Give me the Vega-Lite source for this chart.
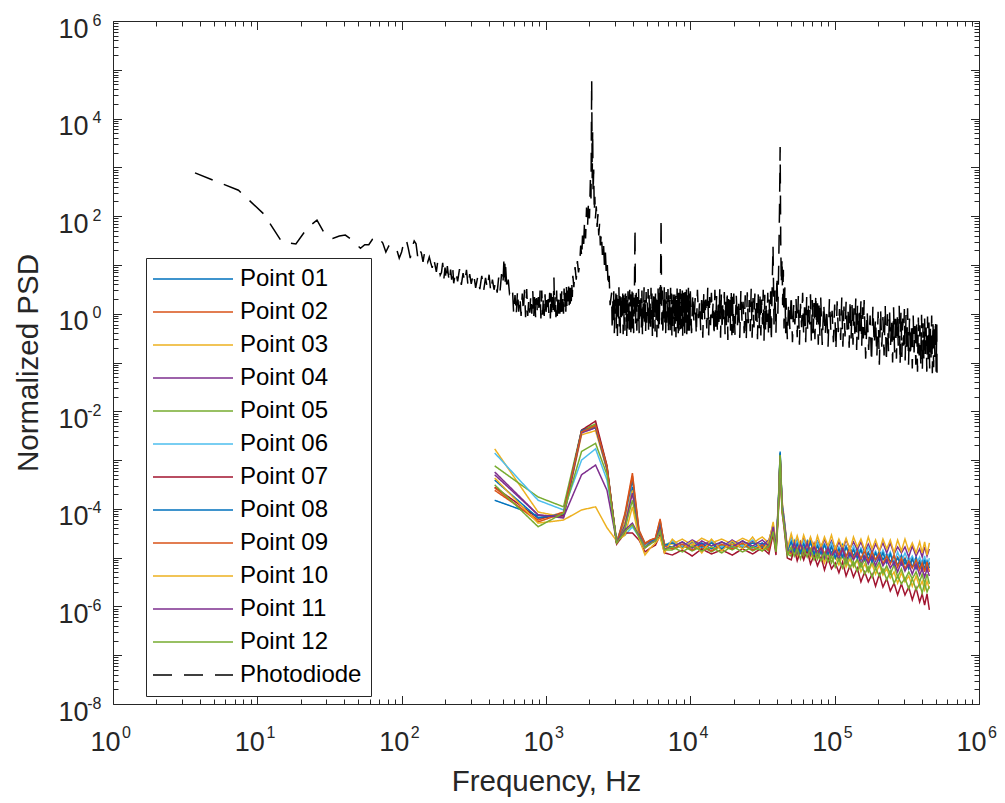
{
"$schema": "https://vega.github.io/schema/vega-lite/v6.json",
"width": 866, "height": 683,
"autosize": {"type": "none"},
"padding": {"left": 113, "top": 21, "right": 26, "bottom": 99},
"background": "white",
"config": {"view": {"stroke": null}, "axis": {"grid": false, "labelFont": "Liberation Sans", "titleFont": "Liberation Sans", "labelColor": "#262626", "titleColor": "#262626", "domainColor": "#262626", "tickColor": "#262626", "titleFontWeight": "normal", "domainWidth": 1, "tickWidth": 1}},
"resolve": {"axis": {"x": "independent", "y": "independent"}},
"layer": [
{
"data": {"values": [
{"s":1,"f":441,"p":1.5e-4},{"s":1,"f":882,"p":7.2e-5},{"s":1,"f":1323,"p":7.2e-5},{"s":1,"f":1764,"p":3.8e-3},{"s":1,"f":2205,"p":4.6e-3},{"s":1,"f":2646,"p":6.3e-4},{"s":1,"f":3087,"p":2.0e-5},{"s":1,"f":3528,"p":3.7e-5},{"s":1,"f":3969,"p":2.8e-4},{"s":1,"f":4410,"p":2.9e-5},{"s":1,"f":4851,"p":1.8e-5},{"s":1,"f":5292,"p":2.1e-5},{"s":1,"f":5733,"p":2.3e-5},{"s":1,"f":6174,"p":4.7e-5},{"s":1,"f":6615,"p":1.8e-5},
{"s":1,"f":7500,"p":1.66e-5},{"s":1,"f":8800,"p":2.1e-5},{"s":1,"f":10300,"p":1.58e-5},{"s":1,"f":12000,"p":2.0e-5},{"s":1,"f":14000,"p":1.51e-5},{"s":1,"f":16500,"p":2.1e-5},{"s":1,"f":19500,"p":1.66e-5},{"s":1,"f":23000,"p":2.2e-5},{"s":1,"f":27000,"p":1.58e-5},{"s":1,"f":31500,"p":2.0e-5},{"s":1,"f":35000,"p":1.58e-5},
{"s":1,"f":37500,"p":4.3e-5},{"s":1,"f":39200,"p":1.58e-5},{"s":1,"f":40600,"p":9.5e-5},{"s":1,"f":41900,"p":1.5e-3},{"s":1,"f":43200,"p":1.2e-4},{"s":1,"f":44600,"p":5.9e-5},{"s":1,"f":47000,"p":1.37e-5},
{"s":1,"f":50000,"p":1.44e-5},{"s":1,"f":55000,"p":1.37e-5},{"s":1,"f":61000,"p":1.44e-5},{"s":1,"f":68000,"p":1.31e-5},{"s":1,"f":76000,"p":1.31e-5},{"s":1,"f":85000,"p":1.13e-5},{"s":1,"f":95000,"p":1.25e-5},{"s":1,"f":107000,"p":1.13e-5},{"s":1,"f":120000,"p":1.03e-5},{"s":1,"f":135000,"p":1.08e-5},{"s":1,"f":152000,"p":9.0e-6},{"s":1,"f":171000,"p":9.4e-6},{"s":1,"f":192000,"p":8.6e-6},{"s":1,"f":216000,"p":9.0e-6},{"s":1,"f":243000,"p":8.2e-6},{"s":1,"f":273000,"p":6.8e-6},{"s":1,"f":307000,"p":7.4e-6},{"s":1,"f":345000,"p":6.4e-6},{"s":1,"f":388000,"p":6.1e-6},{"s":1,"f":420000,"p":5.9e-6},{"s":1,"f":453000,"p":6.1e-6},
{"s":1,"f":52500,"p":2.2e-5},{"s":1,"f":58000,"p":2.1e-5},{"s":1,"f":64500,"p":2.2e-5},{"s":1,"f":72000,"p":1.82e-5},{"s":1,"f":80500,"p":1.82e-5},{"s":1,"f":90000,"p":1.82e-5},{"s":1,"f":101000,"p":1.58e-5},{"s":1,"f":113500,"p":1.82e-5},{"s":1,"f":127500,"p":1.58e-5},{"s":1,"f":143500,"p":1.58e-5},{"s":1,"f":161500,"p":1.37e-5},{"s":1,"f":181500,"p":1.37e-5},{"s":1,"f":204000,"p":1.37e-5},{"s":1,"f":229500,"p":1.19e-5},{"s":1,"f":258000,"p":1.08e-5},{"s":1,"f":290000,"p":1.13e-5},{"s":1,"f":326000,"p":9.8e-6},{"s":1,"f":366500,"p":1.03e-5},{"s":1,"f":404000,"p":8.6e-6},{"s":1,"f":436500,"p":8.6e-6},
{"s":2,"f":441,"p":2.4e-4},{"s":2,"f":882,"p":5.9e-5},{"s":2,"f":1323,"p":8.6e-5},{"s":2,"f":1764,"p":4.0e-3},{"s":2,"f":2205,"p":5.2e-3},{"s":2,"f":2646,"p":6.9e-4},{"s":2,"f":3087,"p":2.0e-5},{"s":2,"f":3528,"p":8.2e-5},{"s":2,"f":3969,"p":5.4e-4},{"s":2,"f":4410,"p":3.7e-5},{"s":2,"f":4851,"p":2.0e-5},{"s":2,"f":5292,"p":2.3e-5},{"s":2,"f":5733,"p":2.5e-5},{"s":2,"f":6174,"p":5.9e-5},{"s":2,"f":6615,"p":1.73e-5},
{"s":2,"f":7500,"p":2.0e-5},{"s":2,"f":8800,"p":1.58e-5},{"s":2,"f":10300,"p":1.9e-5},{"s":2,"f":12000,"p":1.44e-5},{"s":2,"f":14000,"p":2.0e-5},{"s":2,"f":16500,"p":1.51e-5},{"s":2,"f":19500,"p":1.9e-5},{"s":2,"f":23000,"p":1.58e-5},{"s":2,"f":27000,"p":2.1e-5},{"s":2,"f":31500,"p":1.51e-5},{"s":2,"f":35000,"p":1.9e-5},
{"s":2,"f":37500,"p":3.7e-5},{"s":2,"f":39200,"p":1.51e-5},{"s":2,"f":40600,"p":8.6e-5},{"s":2,"f":41900,"p":1.21e-3},{"s":2,"f":43200,"p":1.04e-4},{"s":2,"f":44600,"p":5.4e-5},{"s":2,"f":47000,"p":1.31e-5},
{"s":2,"f":50000,"p":2.2e-5},{"s":2,"f":55000,"p":2.0e-5},{"s":2,"f":61000,"p":2.0e-5},{"s":2,"f":68000,"p":2.2e-5},{"s":2,"f":76000,"p":1.82e-5},{"s":2,"f":85000,"p":1.9e-5},{"s":2,"f":95000,"p":1.73e-5},{"s":2,"f":107000,"p":1.58e-5},{"s":2,"f":120000,"p":1.73e-5},{"s":2,"f":135000,"p":1.51e-5},{"s":2,"f":152000,"p":1.51e-5},{"s":2,"f":171000,"p":1.31e-5},{"s":2,"f":192000,"p":1.31e-5},{"s":2,"f":216000,"p":1.31e-5},{"s":2,"f":243000,"p":1.25e-5},{"s":2,"f":273000,"p":1.03e-5},{"s":2,"f":307000,"p":9.8e-6},{"s":2,"f":345000,"p":9.8e-6},{"s":2,"f":388000,"p":8.6e-6},{"s":2,"f":420000,"p":9.4e-6},{"s":2,"f":453000,"p":8.2e-6},
{"s":2,"f":52500,"p":1.44e-5},{"s":2,"f":58000,"p":1.31e-5},{"s":2,"f":64500,"p":1.44e-5},{"s":2,"f":72000,"p":1.25e-5},{"s":2,"f":80500,"p":1.25e-5},{"s":2,"f":90000,"p":1.25e-5},{"s":2,"f":101000,"p":1.03e-5},{"s":2,"f":113500,"p":1.08e-5},{"s":2,"f":127500,"p":1.13e-5},{"s":2,"f":143500,"p":1.03e-5},{"s":2,"f":161500,"p":9.4e-6},{"s":2,"f":181500,"p":8.6e-6},{"s":2,"f":204000,"p":9.0e-6},{"s":2,"f":229500,"p":8.2e-6},{"s":2,"f":258000,"p":7.4e-6},{"s":2,"f":290000,"p":7.4e-6},{"s":2,"f":326000,"p":6.1e-6},{"s":2,"f":366500,"p":6.1e-6},{"s":2,"f":404000,"p":5.6e-6},{"s":2,"f":436500,"p":5.9e-6},
{"s":3,"f":441,"p":1.7e-3},{"s":3,"f":882,"p":8.6e-5},{"s":3,"f":1323,"p":6.8e-5},{"s":3,"f":1764,"p":3.3e-3},{"s":3,"f":2205,"p":4.0e-3},{"s":3,"f":2646,"p":6.3e-4},{"s":3,"f":3087,"p":2.3e-5},{"s":3,"f":3528,"p":5.4e-5},{"s":3,"f":3969,"p":2.4e-4},{"s":3,"f":4410,"p":3.1e-5},{"s":3,"f":4851,"p":1.8e-5},{"s":3,"f":5292,"p":2.2e-5},{"s":3,"f":5733,"p":2.4e-5},{"s":3,"f":6174,"p":4.7e-5},{"s":3,"f":6615,"p":1.9e-5},
{"s":3,"f":7500,"p":1.9e-5},{"s":3,"f":8800,"p":2.4e-5},{"s":3,"f":10300,"p":1.8e-5},{"s":3,"f":12000,"p":2.5e-5},{"s":3,"f":14000,"p":2.0e-5},{"s":3,"f":16500,"p":2.4e-5},{"s":3,"f":19500,"p":1.9e-5},{"s":3,"f":23000,"p":2.5e-5},{"s":3,"f":27000,"p":2.0e-5},{"s":3,"f":31500,"p":2.65e-5},{"s":3,"f":35000,"p":2.0e-5},
{"s":3,"f":37500,"p":5.4e-5},{"s":3,"f":39200,"p":1.9e-5},{"s":3,"f":40600,"p":1.15e-4},{"s":3,"f":41900,"p":1.27e-3},{"s":3,"f":43200,"p":1.5e-4},{"s":3,"f":44600,"p":6.8e-5},{"s":3,"f":47000,"p":1.66e-5},
{"s":3,"f":50000,"p":1.13e-5},{"s":3,"f":55000,"p":1.08e-5},{"s":3,"f":61000,"p":1.13e-5},{"s":3,"f":68000,"p":9.8e-6},{"s":3,"f":76000,"p":9.4e-6},{"s":3,"f":85000,"p":7.8e-6},{"s":3,"f":95000,"p":8.2e-6},{"s":3,"f":107000,"p":7.1e-6},{"s":3,"f":120000,"p":6.4e-6},{"s":3,"f":135000,"p":6.4e-6},{"s":3,"f":152000,"p":5.1e-6},{"s":3,"f":171000,"p":5.1e-6},{"s":3,"f":192000,"p":4.6e-6},{"s":3,"f":216000,"p":4.4e-6},{"s":3,"f":243000,"p":3.8e-6},{"s":3,"f":273000,"p":3.0e-6},{"s":3,"f":307000,"p":3.2e-6},{"s":3,"f":345000,"p":2.6e-6},{"s":3,"f":388000,"p":2.5e-6},{"s":3,"f":420000,"p":2.2e-6},{"s":3,"f":453000,"p":2.3e-6},
{"s":3,"f":52500,"p":1.73e-5},{"s":3,"f":58000,"p":1.58e-5},{"s":3,"f":64500,"p":1.66e-5},{"s":3,"f":72000,"p":1.37e-5},{"s":3,"f":80500,"p":1.31e-5},{"s":3,"f":90000,"p":1.25e-5},{"s":3,"f":101000,"p":1.03e-5},{"s":3,"f":113500,"p":1.13e-5},{"s":3,"f":127500,"p":9.4e-6},{"s":3,"f":143500,"p":9.0e-6},{"s":3,"f":161500,"p":7.4e-6},{"s":3,"f":181500,"p":7.4e-6},{"s":3,"f":204000,"p":7.1e-6},{"s":3,"f":229500,"p":5.9e-6},{"s":3,"f":258000,"p":5.1e-6},{"s":3,"f":290000,"p":4.9e-6},{"s":3,"f":326000,"p":4.2e-6},{"s":3,"f":366500,"p":4.2e-6},{"s":3,"f":404000,"p":3.3e-6},{"s":3,"f":436500,"p":3.3e-6},
{"s":4,"f":441,"p":5.7e-4},{"s":4,"f":882,"p":7.5e-5},{"s":4,"f":1323,"p":6.5e-5},{"s":4,"f":1764,"p":3.6e-3},{"s":4,"f":2205,"p":4.6e-3},{"s":4,"f":2646,"p":6.6e-4},{"s":4,"f":3087,"p":2.0e-5},{"s":4,"f":3528,"p":4.7e-5},{"s":4,"f":3969,"p":2.1e-4},{"s":4,"f":4410,"p":2.9e-5},{"s":4,"f":4851,"p":1.73e-5},{"s":4,"f":5292,"p":2.1e-5},{"s":4,"f":5733,"p":2.3e-5},{"s":4,"f":6174,"p":4.3e-5},{"s":4,"f":6615,"p":1.66e-5},
{"s":4,"f":7500,"p":2.2e-5},{"s":4,"f":8800,"p":1.73e-5},{"s":4,"f":10300,"p":2.3e-5},{"s":4,"f":12000,"p":1.8e-5},{"s":4,"f":14000,"p":2.2e-5},{"s":4,"f":16500,"p":1.66e-5},{"s":4,"f":19500,"p":2.3e-5},{"s":4,"f":23000,"p":1.73e-5},{"s":4,"f":27000,"p":2.2e-5},{"s":4,"f":31500,"p":1.8e-5},{"s":4,"f":35000,"p":2.3e-5},
{"s":4,"f":37500,"p":4.5e-5},{"s":4,"f":39200,"p":1.73e-5},{"s":4,"f":40600,"p":1.0e-4},{"s":4,"f":41900,"p":1.1e-3},{"s":4,"f":43200,"p":1.32e-4},{"s":4,"f":44600,"p":6.2e-5},{"s":4,"f":47000,"p":1.51e-5},
{"s":4,"f":50000,"p":2.5e-5},{"s":4,"f":55000,"p":2.3e-5},{"s":4,"f":61000,"p":2.4e-5},{"s":4,"f":68000,"p":2.5e-5},{"s":4,"f":76000,"p":2.2e-5},{"s":4,"f":85000,"p":2.4e-5},{"s":4,"f":95000,"p":2.2e-5},{"s":4,"f":107000,"p":2.1e-5},{"s":4,"f":120000,"p":2.3e-5},{"s":4,"f":135000,"p":2.1e-5},{"s":4,"f":152000,"p":2.1e-5},{"s":4,"f":171000,"p":1.9e-5},{"s":4,"f":192000,"p":1.9e-5},{"s":4,"f":216000,"p":2.0e-5},{"s":4,"f":243000,"p":2.0e-5},{"s":4,"f":273000,"p":1.66e-5},{"s":4,"f":307000,"p":1.66e-5},{"s":4,"f":345000,"p":1.73e-5},{"s":4,"f":388000,"p":1.51e-5},{"s":4,"f":420000,"p":1.66e-5},{"s":4,"f":453000,"p":1.51e-5},
{"s":4,"f":52500,"p":1.66e-5},{"s":4,"f":58000,"p":1.51e-5},{"s":4,"f":64500,"p":1.73e-5},{"s":4,"f":72000,"p":1.51e-5},{"s":4,"f":80500,"p":1.58e-5},{"s":4,"f":90000,"p":1.58e-5},{"s":4,"f":101000,"p":1.37e-5},{"s":4,"f":113500,"p":1.44e-5},{"s":4,"f":127500,"p":1.51e-5},{"s":4,"f":143500,"p":1.44e-5},{"s":4,"f":161500,"p":1.31e-5},{"s":4,"f":181500,"p":1.25e-5},{"s":4,"f":204000,"p":1.37e-5},{"s":4,"f":229500,"p":1.25e-5},{"s":4,"f":258000,"p":1.19e-5},{"s":4,"f":290000,"p":1.25e-5},{"s":4,"f":326000,"p":1.03e-5},{"s":4,"f":366500,"p":1.08e-5},{"s":4,"f":404000,"p":1.03e-5},{"s":4,"f":436500,"p":1.08e-5},
{"s":5,"f":441,"p":7.6e-4},{"s":5,"f":882,"p":1.75e-4},{"s":5,"f":1323,"p":1.1e-4},{"s":5,"f":1764,"p":4.1e-3},{"s":5,"f":2205,"p":5.5e-3},{"s":5,"f":2646,"p":7.6e-4},{"s":5,"f":3087,"p":2.0e-5},{"s":5,"f":3528,"p":4.1e-5},{"s":5,"f":3969,"p":1.5e-4},{"s":5,"f":4410,"p":2.8e-5},{"s":5,"f":4851,"p":1.66e-5},{"s":5,"f":5292,"p":2.0e-5},{"s":5,"f":5733,"p":2.2e-5},{"s":5,"f":6174,"p":3.7e-5},{"s":5,"f":6615,"p":1.44e-5},
{"s":5,"f":7500,"p":1.44e-5},{"s":5,"f":8800,"p":1.8e-5},{"s":5,"f":10300,"p":1.37e-5},{"s":5,"f":12000,"p":1.73e-5},{"s":5,"f":14000,"p":1.31e-5},{"s":5,"f":16500,"p":1.8e-5},{"s":5,"f":19500,"p":1.44e-5},{"s":5,"f":23000,"p":1.9e-5},{"s":5,"f":27000,"p":1.37e-5},{"s":5,"f":31500,"p":1.73e-5},{"s":5,"f":35000,"p":1.37e-5},
{"s":5,"f":37500,"p":3.5e-5},{"s":5,"f":39200,"p":1.37e-5},{"s":5,"f":40600,"p":7.9e-5},{"s":5,"f":41900,"p":1.33e-3},{"s":5,"f":43200,"p":1.0e-4},{"s":5,"f":44600,"p":4.9e-5},{"s":5,"f":47000,"p":1.19e-5},
{"s":5,"f":50000,"p":1.08e-5},{"s":5,"f":55000,"p":1.19e-5},{"s":5,"f":61000,"p":1.08e-5},{"s":5,"f":68000,"p":1.13e-5},{"s":5,"f":76000,"p":9.4e-6},{"s":5,"f":85000,"p":9.4e-6},{"s":5,"f":95000,"p":7.8e-6},{"s":5,"f":107000,"p":8.6e-6},{"s":5,"f":120000,"p":7.4e-6},{"s":5,"f":135000,"p":6.8e-6},{"s":5,"f":152000,"p":6.4e-6},{"s":5,"f":171000,"p":5.3e-6},{"s":5,"f":192000,"p":5.9e-6},{"s":5,"f":216000,"p":4.9e-6},{"s":5,"f":243000,"p":4.6e-6},{"s":5,"f":273000,"p":4.0e-6},{"s":5,"f":307000,"p":3.5e-6},{"s":5,"f":345000,"p":3.7e-6},{"s":5,"f":388000,"p":3.2e-6},{"s":5,"f":420000,"p":2.9e-6},{"s":5,"f":453000,"p":2.9e-6},
{"s":5,"f":52500,"p":1.66e-5},{"s":5,"f":58000,"p":1.82e-5},{"s":5,"f":64500,"p":1.58e-5},{"s":5,"f":72000,"p":1.66e-5},{"s":5,"f":80500,"p":1.44e-5},{"s":5,"f":90000,"p":1.25e-5},{"s":5,"f":101000,"p":1.25e-5},{"s":5,"f":113500,"p":1.13e-5},{"s":5,"f":127500,"p":1.13e-5},{"s":5,"f":143500,"p":9.4e-6},{"s":5,"f":161500,"p":9.4e-6},{"s":5,"f":181500,"p":8.6e-6},{"s":5,"f":204000,"p":8.2e-6},{"s":5,"f":229500,"p":6.8e-6},{"s":5,"f":258000,"p":7.1e-6},{"s":5,"f":290000,"p":5.9e-6},{"s":5,"f":326000,"p":5.1e-6},{"s":5,"f":366500,"p":5.1e-6},{"s":5,"f":404000,"p":4.6e-6},{"s":5,"f":436500,"p":4.6e-6},
{"s":6,"f":441,"p":1.4e-3},{"s":6,"f":882,"p":1.5e-4},{"s":6,"f":1323,"p":9.5e-5},{"s":6,"f":1764,"p":1.0e-3},{"s":6,"f":2205,"p":1.7e-3},{"s":6,"f":2646,"p":3.9e-4},{"s":6,"f":3087,"p":2.3e-5},{"s":6,"f":3528,"p":2.9e-5},{"s":6,"f":3969,"p":4.3e-5},{"s":6,"f":4410,"p":2.65e-5},{"s":6,"f":4851,"p":1.8e-5},{"s":6,"f":5292,"p":2.2e-5},{"s":6,"f":5733,"p":2.4e-5},{"s":6,"f":6174,"p":3.2e-5},{"s":6,"f":6615,"p":1.73e-5},
{"s":6,"f":7500,"p":2.2e-5},{"s":6,"f":8800,"p":1.73e-5},{"s":6,"f":10300,"p":2.1e-5},{"s":6,"f":12000,"p":1.58e-5},{"s":6,"f":14000,"p":2.2e-5},{"s":6,"f":16500,"p":1.66e-5},{"s":6,"f":19500,"p":2.1e-5},{"s":6,"f":23000,"p":1.73e-5},{"s":6,"f":27000,"p":2.3e-5},{"s":6,"f":31500,"p":1.66e-5},{"s":6,"f":35000,"p":2.1e-5},
{"s":6,"f":37500,"p":4.7e-5},{"s":6,"f":39200,"p":1.66e-5},{"s":6,"f":40600,"p":1.04e-4},{"s":6,"f":41900,"p":1.16e-3},{"s":6,"f":43200,"p":1.26e-4},{"s":6,"f":44600,"p":6.5e-5},{"s":6,"f":47000,"p":1.44e-5},
{"s":6,"f":50000,"p":2.4e-5},{"s":6,"f":55000,"p":2.2e-5},{"s":6,"f":61000,"p":2.2e-5},{"s":6,"f":68000,"p":2.0e-5},{"s":6,"f":76000,"p":2.1e-5},{"s":6,"f":85000,"p":1.9e-5},{"s":6,"f":95000,"p":2.0e-5},{"s":6,"f":107000,"p":1.66e-5},{"s":6,"f":120000,"p":1.73e-5},{"s":6,"f":135000,"p":1.73e-5},{"s":6,"f":152000,"p":1.58e-5},{"s":6,"f":171000,"p":1.66e-5},{"s":6,"f":192000,"p":1.37e-5},{"s":6,"f":216000,"p":1.44e-5},{"s":6,"f":243000,"p":1.31e-5},{"s":6,"f":273000,"p":1.31e-5},{"s":6,"f":307000,"p":1.25e-5},{"s":6,"f":345000,"p":1.08e-5},{"s":6,"f":388000,"p":1.03e-5},{"s":6,"f":420000,"p":1.08e-5},{"s":6,"f":453000,"p":9.8e-6},
{"s":6,"f":52500,"p":1.58e-5},{"s":6,"f":58000,"p":1.44e-5},{"s":6,"f":64500,"p":1.44e-5},{"s":6,"f":72000,"p":1.25e-5},{"s":6,"f":80500,"p":1.37e-5},{"s":6,"f":90000,"p":1.37e-5},{"s":6,"f":101000,"p":1.19e-5},{"s":6,"f":113500,"p":1.19e-5},{"s":6,"f":127500,"p":1.03e-5},{"s":6,"f":143500,"p":1.13e-5},{"s":6,"f":161500,"p":1.03e-5},{"s":6,"f":181500,"p":1.03e-5},{"s":6,"f":204000,"p":9.4e-6},{"s":6,"f":229500,"p":9.4e-6},{"s":6,"f":258000,"p":7.8e-6},{"s":6,"f":290000,"p":8.2e-6},{"s":6,"f":326000,"p":8.2e-6},{"s":6,"f":366500,"p":7.1e-6},{"s":6,"f":404000,"p":7.1e-6},{"s":6,"f":436500,"p":6.1e-6},
{"s":7,"f":441,"p":2.8e-4},{"s":7,"f":882,"p":6.5e-5},{"s":7,"f":1323,"p":7.5e-5},{"s":7,"f":1764,"p":4.1e-3},{"s":7,"f":2205,"p":6.3e-3},{"s":7,"f":2646,"p":7.6e-4},{"s":7,"f":3087,"p":1.9e-5},{"s":7,"f":3528,"p":3.2e-5},{"s":7,"f":3969,"p":3.2e-5},{"s":7,"f":4410,"p":2.3e-5},{"s":7,"f":4851,"p":1.31e-5},{"s":7,"f":5292,"p":1.58e-5},{"s":7,"f":5733,"p":1.8e-5},{"s":7,"f":6174,"p":2.9e-5},{"s":7,"f":6615,"p":1.25e-5},
{"s":7,"f":7500,"p":1.13e-5},{"s":7,"f":8800,"p":1.44e-5},{"s":7,"f":10300,"p":1.08e-5},{"s":7,"f":12000,"p":1.51e-5},{"s":7,"f":14000,"p":1.19e-5},{"s":7,"f":16500,"p":1.44e-5},{"s":7,"f":19500,"p":1.13e-5},{"s":7,"f":23000,"p":1.51e-5},{"s":7,"f":27000,"p":1.19e-5},{"s":7,"f":31500,"p":1.58e-5},{"s":7,"f":35000,"p":1.19e-5},
{"s":7,"f":37500,"p":3.1e-5},{"s":7,"f":39200,"p":1.13e-5},{"s":7,"f":40600,"p":6.5e-5},{"s":7,"f":41900,"p":1.0e-3},{"s":7,"f":43200,"p":8.6e-5},{"s":7,"f":44600,"p":4.1e-5},{"s":7,"f":47000,"p":9.8e-6},
{"s":7,"f":50000,"p":9.0e-6},{"s":7,"f":55000,"p":8.6e-6},{"s":7,"f":61000,"p":9.0e-6},{"s":7,"f":68000,"p":7.4e-6},{"s":7,"f":76000,"p":6.8e-6},{"s":7,"f":85000,"p":5.6e-6},{"s":7,"f":95000,"p":5.9e-6},{"s":7,"f":107000,"p":4.9e-6},{"s":7,"f":120000,"p":4.2e-6},{"s":7,"f":135000,"p":4.0e-6},{"s":7,"f":152000,"p":3.2e-6},{"s":7,"f":171000,"p":3.2e-6},{"s":7,"f":192000,"p":2.6e-6},{"s":7,"f":216000,"p":2.5e-6},{"s":7,"f":243000,"p":2.07e-6},{"s":7,"f":273000,"p":1.72e-6},{"s":7,"f":307000,"p":1.72e-6},{"s":7,"f":345000,"p":1.36e-6},{"s":7,"f":388000,"p":1.23e-6},{"s":7,"f":420000,"p":1.07e-6},{"s":7,"f":453000,"p":8.5e-7},
{"s":7,"f":52500,"p":1.51e-5},{"s":7,"f":58000,"p":1.37e-5},{"s":7,"f":64500,"p":1.44e-5},{"s":7,"f":72000,"p":1.13e-5},{"s":7,"f":80500,"p":1.03e-5},{"s":7,"f":90000,"p":9.8e-6},{"s":7,"f":101000,"p":7.8e-6},{"s":7,"f":113500,"p":8.2e-6},{"s":7,"f":127500,"p":6.8e-6},{"s":7,"f":143500,"p":6.1e-6},{"s":7,"f":161500,"p":5.1e-6},{"s":7,"f":181500,"p":4.6e-6},{"s":7,"f":204000,"p":4.6e-6},{"s":7,"f":229500,"p":3.7e-6},{"s":7,"f":258000,"p":3.0e-6},{"s":7,"f":290000,"p":2.9e-6},{"s":7,"f":326000,"p":2.5e-6},{"s":7,"f":366500,"p":2.4e-6},{"s":7,"f":404000,"p":1.8e-6},{"s":7,"f":436500,"p":1.8e-6},
{"s":8,"f":441,"p":3.9e-4},{"s":8,"f":882,"p":6.5e-5},{"s":8,"f":1323,"p":7.9e-5},{"s":8,"f":1764,"p":4.0e-3},{"s":8,"f":2205,"p":4.8e-3},{"s":8,"f":2646,"p":6.9e-4},{"s":8,"f":3087,"p":2.0e-5},{"s":8,"f":3528,"p":7.2e-5},{"s":8,"f":3969,"p":3.9e-4},{"s":8,"f":4410,"p":3.4e-5},{"s":8,"f":4851,"p":1.9e-5},{"s":8,"f":5292,"p":2.2e-5},{"s":8,"f":5733,"p":2.4e-5},{"s":8,"f":6174,"p":5.4e-5},{"s":8,"f":6615,"p":1.8e-5},
{"s":8,"f":7500,"p":2.0e-5},{"s":8,"f":8800,"p":1.58e-5},{"s":8,"f":10300,"p":2.1e-5},{"s":8,"f":12000,"p":1.66e-5},{"s":8,"f":14000,"p":2.0e-5},{"s":8,"f":16500,"p":1.51e-5},{"s":8,"f":19500,"p":2.1e-5},{"s":8,"f":23000,"p":1.58e-5},{"s":8,"f":27000,"p":2.0e-5},{"s":8,"f":31500,"p":1.66e-5},{"s":8,"f":35000,"p":2.1e-5},
{"s":8,"f":37500,"p":4.1e-5},{"s":8,"f":39200,"p":1.58e-5},{"s":8,"f":40600,"p":9.0e-5},{"s":8,"f":41900,"p":1.4e-3},{"s":8,"f":43200,"p":1.15e-4},{"s":8,"f":44600,"p":5.6e-5},{"s":8,"f":47000,"p":1.37e-5},
{"s":8,"f":50000,"p":2.1e-5},{"s":8,"f":55000,"p":1.9e-5},{"s":8,"f":61000,"p":1.9e-5},{"s":8,"f":68000,"p":2.1e-5},{"s":8,"f":76000,"p":1.73e-5},{"s":8,"f":85000,"p":1.82e-5},{"s":8,"f":95000,"p":1.66e-5},{"s":8,"f":107000,"p":1.51e-5},{"s":8,"f":120000,"p":1.66e-5},{"s":8,"f":135000,"p":1.44e-5},{"s":8,"f":152000,"p":1.44e-5},{"s":8,"f":171000,"p":1.25e-5},{"s":8,"f":192000,"p":1.25e-5},{"s":8,"f":216000,"p":1.25e-5},{"s":8,"f":243000,"p":1.19e-5},{"s":8,"f":273000,"p":9.8e-6},{"s":8,"f":307000,"p":9.4e-6},{"s":8,"f":345000,"p":9.4e-6},{"s":8,"f":388000,"p":8.2e-6},{"s":8,"f":420000,"p":9.0e-6},{"s":8,"f":453000,"p":7.8e-6},
{"s":8,"f":52500,"p":1.37e-5},{"s":8,"f":58000,"p":1.25e-5},{"s":8,"f":64500,"p":1.37e-5},{"s":8,"f":72000,"p":1.19e-5},{"s":8,"f":80500,"p":1.19e-5},{"s":8,"f":90000,"p":1.19e-5},{"s":8,"f":101000,"p":9.8e-6},{"s":8,"f":113500,"p":1.03e-5},{"s":8,"f":127500,"p":1.08e-5},{"s":8,"f":143500,"p":9.8e-6},{"s":8,"f":161500,"p":9.0e-6},{"s":8,"f":181500,"p":8.2e-6},{"s":8,"f":204000,"p":8.6e-6},{"s":8,"f":229500,"p":7.8e-6},{"s":8,"f":258000,"p":7.1e-6},{"s":8,"f":290000,"p":7.1e-6},{"s":8,"f":326000,"p":5.9e-6},{"s":8,"f":366500,"p":5.9e-6},{"s":8,"f":404000,"p":5.3e-6},{"s":8,"f":436500,"p":5.6e-6},
{"s":9,"f":441,"p":2.7e-4},{"s":9,"f":882,"p":5.4e-5},{"s":9,"f":1323,"p":8.2e-5},{"s":9,"f":1764,"p":3.8e-3},{"s":9,"f":2205,"p":5.0e-3},{"s":9,"f":2646,"p":7.2e-4},{"s":9,"f":3087,"p":1.9e-5},{"s":9,"f":3528,"p":7.5e-5},{"s":9,"f":3969,"p":4.7e-4},{"s":9,"f":4410,"p":3.5e-5},{"s":9,"f":4851,"p":1.9e-5},{"s":9,"f":5292,"p":2.3e-5},{"s":9,"f":5733,"p":2.5e-5},{"s":9,"f":6174,"p":6.2e-5},{"s":9,"f":6615,"p":1.73e-5},
{"s":9,"f":7500,"p":1.51e-5},{"s":9,"f":8800,"p":1.9e-5},{"s":9,"f":10300,"p":1.44e-5},{"s":9,"f":12000,"p":1.8e-5},{"s":9,"f":14000,"p":1.37e-5},{"s":9,"f":16500,"p":1.9e-5},{"s":9,"f":19500,"p":1.51e-5},{"s":9,"f":23000,"p":2.0e-5},{"s":9,"f":27000,"p":1.44e-5},{"s":9,"f":31500,"p":1.8e-5},{"s":9,"f":35000,"p":1.44e-5},
{"s":9,"f":37500,"p":3.9e-5},{"s":9,"f":39200,"p":1.44e-5},{"s":9,"f":40600,"p":8.2e-5},{"s":9,"f":41900,"p":1.21e-3},{"s":9,"f":43200,"p":1.1e-4},{"s":9,"f":44600,"p":5.4e-5},{"s":9,"f":47000,"p":1.25e-5},
{"s":9,"f":50000,"p":1.25e-5},{"s":9,"f":55000,"p":1.37e-5},{"s":9,"f":61000,"p":1.25e-5},{"s":9,"f":68000,"p":1.37e-5},{"s":9,"f":76000,"p":1.19e-5},{"s":9,"f":85000,"p":1.19e-5},{"s":9,"f":95000,"p":1.03e-5},{"s":9,"f":107000,"p":1.13e-5},{"s":9,"f":120000,"p":1.03e-5},{"s":9,"f":135000,"p":9.4e-6},{"s":9,"f":152000,"p":9.4e-6},{"s":9,"f":171000,"p":8.2e-6},{"s":9,"f":192000,"p":9.0e-6},{"s":9,"f":216000,"p":7.4e-6},{"s":9,"f":243000,"p":7.4e-6},{"s":9,"f":273000,"p":6.4e-6},{"s":9,"f":307000,"p":5.9e-6},{"s":9,"f":345000,"p":6.1e-6},{"s":9,"f":388000,"p":5.6e-6},{"s":9,"f":420000,"p":5.1e-6},{"s":9,"f":453000,"p":5.1e-6},
{"s":9,"f":52500,"p":1.9e-5},{"s":9,"f":58000,"p":2.1e-5},{"s":9,"f":64500,"p":1.9e-5},{"s":9,"f":72000,"p":2.0e-5},{"s":9,"f":80500,"p":1.73e-5},{"s":9,"f":90000,"p":1.58e-5},{"s":9,"f":101000,"p":1.66e-5},{"s":9,"f":113500,"p":1.58e-5},{"s":9,"f":127500,"p":1.66e-5},{"s":9,"f":143500,"p":1.37e-5},{"s":9,"f":161500,"p":1.44e-5},{"s":9,"f":181500,"p":1.31e-5},{"s":9,"f":204000,"p":1.25e-5},{"s":9,"f":229500,"p":1.08e-5},{"s":9,"f":258000,"p":1.13e-5},{"s":9,"f":290000,"p":9.8e-6},{"s":9,"f":326000,"p":8.6e-6},{"s":9,"f":366500,"p":9.0e-6},{"s":9,"f":404000,"p":7.8e-6},{"s":9,"f":436500,"p":8.2e-6},
{"s":10,"f":441,"p":4.3e-4},{"s":10,"f":882,"p":5.1e-5},{"s":10,"f":1323,"p":5.9e-5},{"s":10,"f":1764,"p":9.5e-5},{"s":10,"f":2205,"p":1.1e-4},{"s":10,"f":2646,"p":4.1e-5},{"s":10,"f":3087,"p":2.2e-5},{"s":10,"f":3528,"p":2.9e-5},{"s":10,"f":3969,"p":1.1e-4},{"s":10,"f":4410,"p":2.5e-5},{"s":10,"f":4851,"p":1.13e-5},{"s":10,"f":5292,"p":1.58e-5},{"s":10,"f":5733,"p":2.0e-5},{"s":10,"f":6174,"p":2.65e-5},{"s":10,"f":6615,"p":1.25e-5},
{"s":10,"f":7500,"p":2.4e-5},{"s":10,"f":8800,"p":1.51e-5},{"s":10,"f":10300,"p":2.2e-5},{"s":10,"f":12000,"p":1.25e-5},{"s":10,"f":14000,"p":2.4e-5},{"s":10,"f":16500,"p":1.37e-5},{"s":10,"f":19500,"p":2.2e-5},{"s":10,"f":23000,"p":1.51e-5},{"s":10,"f":27000,"p":2.65e-5},{"s":10,"f":31500,"p":1.37e-5},{"s":10,"f":35000,"p":2.2e-5},
{"s":10,"f":37500,"p":4.9e-5},{"s":10,"f":39200,"p":1.73e-5},{"s":10,"f":40600,"p":7.5e-5},{"s":10,"f":41900,"p":9.1e-4},{"s":10,"f":43200,"p":9.5e-5},{"s":10,"f":44600,"p":5.1e-5},{"s":10,"f":47000,"p":1.51e-5},
{"s":10,"f":50000,"p":3.1e-5},{"s":10,"f":55000,"p":2.8e-5},{"s":10,"f":61000,"p":2.9e-5},{"s":10,"f":68000,"p":2.65e-5},{"s":10,"f":76000,"p":2.8e-5},{"s":10,"f":85000,"p":2.65e-5},{"s":10,"f":95000,"p":2.9e-5},{"s":10,"f":107000,"p":2.4e-5},{"s":10,"f":120000,"p":2.5e-5},{"s":10,"f":135000,"p":2.65e-5},{"s":10,"f":152000,"p":2.4e-5},{"s":10,"f":171000,"p":2.65e-5},{"s":10,"f":192000,"p":2.3e-5},{"s":10,"f":216000,"p":2.4e-5},{"s":10,"f":243000,"p":2.3e-5},{"s":10,"f":273000,"p":2.3e-5},{"s":10,"f":307000,"p":2.4e-5},{"s":10,"f":345000,"p":2.0e-5},{"s":10,"f":388000,"p":2.1e-5},{"s":10,"f":420000,"p":2.1e-5},{"s":10,"f":453000,"p":2.0e-5},
{"s":10,"f":52500,"p":1.82e-5},{"s":10,"f":58000,"p":1.66e-5},{"s":10,"f":64500,"p":1.73e-5},{"s":10,"f":72000,"p":1.51e-5},{"s":10,"f":80500,"p":1.66e-5},{"s":10,"f":90000,"p":1.73e-5},{"s":10,"f":101000,"p":1.51e-5},{"s":10,"f":113500,"p":1.58e-5},{"s":10,"f":127500,"p":1.44e-5},{"s":10,"f":143500,"p":1.66e-5},{"s":10,"f":161500,"p":1.44e-5},{"s":10,"f":181500,"p":1.51e-5},{"s":10,"f":204000,"p":1.37e-5},{"s":10,"f":229500,"p":1.51e-5},{"s":10,"f":258000,"p":1.25e-5},{"s":10,"f":290000,"p":1.37e-5},{"s":10,"f":326000,"p":1.37e-5},{"s":10,"f":366500,"p":1.25e-5},{"s":10,"f":404000,"p":1.25e-5},{"s":10,"f":436500,"p":1.13e-5},
{"s":11,"f":441,"p":5.0e-4},{"s":11,"f":882,"p":7.5e-5},{"s":11,"f":1323,"p":6.8e-5},{"s":11,"f":1764,"p":5.0e-4},{"s":11,"f":2205,"p":7.9e-4},{"s":11,"f":2646,"p":2.4e-4},{"s":11,"f":3087,"p":2.1e-5},{"s":11,"f":3528,"p":3.7e-5},{"s":11,"f":3969,"p":5.1e-5},{"s":11,"f":4410,"p":2.8e-5},{"s":11,"f":4851,"p":1.58e-5},{"s":11,"f":5292,"p":2.0e-5},{"s":11,"f":5733,"p":2.2e-5},{"s":11,"f":6174,"p":3.7e-5},{"s":11,"f":6615,"p":1.51e-5},
{"s":11,"f":7500,"p":1.66e-5},{"s":11,"f":8800,"p":2.1e-5},{"s":11,"f":10300,"p":1.58e-5},{"s":11,"f":12000,"p":2.2e-5},{"s":11,"f":14000,"p":1.73e-5},{"s":11,"f":16500,"p":2.1e-5},{"s":11,"f":19500,"p":1.66e-5},{"s":11,"f":23000,"p":2.2e-5},{"s":11,"f":27000,"p":1.73e-5},{"s":11,"f":31500,"p":2.3e-5},{"s":11,"f":35000,"p":1.73e-5},
{"s":11,"f":37500,"p":4.3e-5},{"s":11,"f":39200,"p":1.66e-5},{"s":11,"f":40600,"p":8.6e-5},{"s":11,"f":41900,"p":1.05e-3},{"s":11,"f":43200,"p":1.1e-4},{"s":11,"f":44600,"p":5.6e-5},{"s":11,"f":47000,"p":1.44e-5},
{"s":11,"f":50000,"p":1.31e-5},{"s":11,"f":55000,"p":1.25e-5},{"s":11,"f":61000,"p":1.31e-5},{"s":11,"f":68000,"p":1.13e-5},{"s":11,"f":76000,"p":1.13e-5},{"s":11,"f":85000,"p":9.8e-6},{"s":11,"f":95000,"p":1.08e-5},{"s":11,"f":107000,"p":9.4e-6},{"s":11,"f":120000,"p":8.6e-6},{"s":11,"f":135000,"p":9.0e-6},{"s":11,"f":152000,"p":7.4e-6},{"s":11,"f":171000,"p":7.4e-6},{"s":11,"f":192000,"p":6.8e-6},{"s":11,"f":216000,"p":6.8e-6},{"s":11,"f":243000,"p":6.1e-6},{"s":11,"f":273000,"p":5.1e-6},{"s":11,"f":307000,"p":5.3e-6},{"s":11,"f":345000,"p":4.6e-6},{"s":11,"f":388000,"p":4.4e-6},{"s":11,"f":420000,"p":4.0e-6},{"s":11,"f":453000,"p":4.2e-6},
{"s":11,"f":52500,"p":2.0e-5},{"s":11,"f":58000,"p":1.9e-5},{"s":11,"f":64500,"p":2.0e-5},{"s":11,"f":72000,"p":1.66e-5},{"s":11,"f":80500,"p":1.58e-5},{"s":11,"f":90000,"p":1.58e-5},{"s":11,"f":101000,"p":1.37e-5},{"s":11,"f":113500,"p":1.51e-5},{"s":11,"f":127500,"p":1.25e-5},{"s":11,"f":143500,"p":1.25e-5},{"s":11,"f":161500,"p":1.08e-5},{"s":11,"f":181500,"p":1.08e-5},{"s":11,"f":204000,"p":1.08e-5},{"s":11,"f":229500,"p":9.0e-6},{"s":11,"f":258000,"p":8.2e-6},{"s":11,"f":290000,"p":8.2e-6},{"s":11,"f":326000,"p":7.4e-6},{"s":11,"f":366500,"p":7.4e-6},{"s":11,"f":404000,"p":5.9e-6},{"s":11,"f":436500,"p":5.9e-6},
{"s":12,"f":441,"p":3.1e-4},{"s":12,"f":882,"p":4.3e-5},{"s":12,"f":1323,"p":8.2e-5},{"s":12,"f":1764,"p":1.5e-3},{"s":12,"f":2205,"p":2.2e-3},{"s":12,"f":2646,"p":5.0e-4},{"s":12,"f":3087,"p":2.0e-5},{"s":12,"f":3528,"p":3.4e-5},{"s":12,"f":3969,"p":4.7e-5},{"s":12,"f":4410,"p":2.65e-5},{"s":12,"f":4851,"p":1.58e-5},{"s":12,"f":5292,"p":1.9e-5},{"s":12,"f":5733,"p":2.2e-5},{"s":12,"f":6174,"p":3.5e-5},{"s":12,"f":6615,"p":1.44e-5},
{"s":12,"f":7500,"p":1.66e-5},{"s":12,"f":8800,"p":1.31e-5},{"s":12,"f":10300,"p":1.73e-5},{"s":12,"f":12000,"p":1.37e-5},{"s":12,"f":14000,"p":1.66e-5},{"s":12,"f":16500,"p":1.25e-5},{"s":12,"f":19500,"p":1.73e-5},{"s":12,"f":23000,"p":1.31e-5},{"s":12,"f":27000,"p":1.66e-5},{"s":12,"f":31500,"p":1.37e-5},{"s":12,"f":35000,"p":1.73e-5},
{"s":12,"f":37500,"p":3.4e-5},{"s":12,"f":39200,"p":1.31e-5},{"s":12,"f":40600,"p":7.5e-5},{"s":12,"f":41900,"p":1.27e-3},{"s":12,"f":43200,"p":9.5e-5},{"s":12,"f":44600,"p":4.7e-5},{"s":12,"f":47000,"p":1.13e-5},
{"s":12,"f":50000,"p":1.66e-5},{"s":12,"f":55000,"p":1.51e-5},{"s":12,"f":61000,"p":1.51e-5},{"s":12,"f":68000,"p":1.51e-5},{"s":12,"f":76000,"p":1.25e-5},{"s":12,"f":85000,"p":1.25e-5},{"s":12,"f":95000,"p":1.08e-5},{"s":12,"f":107000,"p":9.4e-6},{"s":12,"f":120000,"p":9.8e-6},{"s":12,"f":135000,"p":8.2e-6},{"s":12,"f":152000,"p":7.8e-6},{"s":12,"f":171000,"p":6.4e-6},{"s":12,"f":192000,"p":6.1e-6},{"s":12,"f":216000,"p":5.9e-6},{"s":12,"f":243000,"p":5.3e-6},{"s":12,"f":273000,"p":4.2e-6},{"s":12,"f":307000,"p":3.8e-6},{"s":12,"f":345000,"p":3.7e-6},{"s":12,"f":388000,"p":2.9e-6},{"s":12,"f":420000,"p":3.0e-6},{"s":12,"f":453000,"p":2.6e-6},
{"s":12,"f":52500,"p":1.08e-5},{"s":12,"f":58000,"p":9.4e-6},{"s":12,"f":64500,"p":1.03e-5},{"s":12,"f":72000,"p":9.0e-6},{"s":12,"f":80500,"p":8.6e-6},{"s":12,"f":90000,"p":8.2e-6},{"s":12,"f":101000,"p":6.4e-6},{"s":12,"f":113500,"p":6.1e-6},{"s":12,"f":127500,"p":6.1e-6},{"s":12,"f":143500,"p":5.3e-6},{"s":12,"f":161500,"p":4.6e-6},{"s":12,"f":181500,"p":4.0e-6},{"s":12,"f":204000,"p":4.2e-6},{"s":12,"f":229500,"p":3.5e-6},{"s":12,"f":258000,"p":3.0e-6},{"s":12,"f":290000,"p":2.9e-6},{"s":12,"f":326000,"p":2.3e-6},{"s":12,"f":366500,"p":2.2e-6},{"s":12,"f":404000,"p":1.89e-6},{"s":12,"f":436500,"p":1.98e-6},
{"s":13,"f":3.7,"p":770},{"s":13,"f":7.4,"p":340},{"s":13,"f":11.1,"p":110},{"s":13,"f":14.8,"p":29.5},{"s":13,"f":18.5,"p":27},{"s":13,"f":22.2,"p":57},{"s":13,"f":25.9,"p":83},{"s":13,"f":29.6,"p":41},{"s":13,"f":33.3,"p":35},{"s":13,"f":37,"p":39},{"s":13,"f":40.7,"p":41},{"s":13,"f":44.4,"p":34},{"s":13,"f":48.1,"p":27},{"s":13,"f":51.8,"p":22},{"s":13,"f":55.5,"p":26},{"s":13,"f":59.2,"p":26},{"s":13,"f":62.9,"p":34},{"s":13,"f":66.6,"p":39},
{"s":13,"f":70.3,"p":34},{"s":13,"f":74,"p":28},{"s":13,"f":77.7,"p":18.4},{"s":13,"f":81.4,"p":24.5},{"s":13,"f":85.1,"p":27},{"s":13,"f":88.8,"p":23.4},{"s":13,"f":92.5,"p":20.4},{"s":13,"f":96.2,"p":13.8},{"s":13,"f":99.9,"p":18.4},{"s":13,"f":103.6,"p":29.5},{"s":13,"f":107.3,"p":34},{"s":13,"f":111,"p":22.4},{"s":13,"f":114.7,"p":13.8},{"s":13,"f":118.4,"p":23.4},{"s":13,"f":122.1,"p":31},{"s":13,"f":125.8,"p":27},{"s":13,"f":129.5,"p":13.8},{"s":13,"f":133.2,"p":20.4},{"s":13,"f":136.9,"p":17.6},{"s":13,"f":140.6,"p":11.5},{"s":13,"f":144.3,"p":18.4},{"s":13,"f":148,"p":15.8},{"s":13,"f":151.7,"p":11.5},{"s":13,"f":155.4,"p":14.5},{"s":13,"f":159.1,"p":11},{"s":13,"f":162.8,"p":8.7},{"s":13,"f":166.5,"p":13.8},{"s":13,"f":170.2,"p":10},{"s":13,"f":173.9,"p":7.2},{"s":13,"f":177.6,"p":11.5},{"s":13,"f":181.3,"p":8.7},{"s":13,"f":185,"p":6.2},
{"s":13,"f":188.7,"p":7},{"s":13,"f":192.4,"p":11},{"s":13,"f":196.1,"p":5.2},{"s":13,"f":199.8,"p":8.8},{"s":13,"f":203.5,"p":4.8},{"s":13,"f":207.2,"p":9.5},{"s":13,"f":210.9,"p":6},{"s":13,"f":214.6,"p":4.4},{"s":13,"f":218.3,"p":8},{"s":13,"f":222,"p":5},{"s":13,"f":225.7,"p":9},{"s":13,"f":229.4,"p":4.2},{"s":13,"f":236.8,"p":7.5},{"s":13,"f":244.2,"p":4.6},{"s":13,"f":251.6,"p":8.2},{"s":13,"f":259,"p":3.9},{"s":13,"f":266.4,"p":6.8},{"s":13,"f":273.8,"p":4.4},{"s":13,"f":281.2,"p":7.9},{"s":13,"f":288.6,"p":3.6},{"s":13,"f":296,"p":6.5},{"s":13,"f":303.4,"p":4.1},{"s":13,"f":314.5,"p":6.9},{"s":13,"f":325.6,"p":3.4},{"s":13,"f":336.7,"p":5.8},{"s":13,"f":347.8,"p":3.2},{"s":13,"f":358.9,"p":6},{"s":13,"f":370,"p":3},{"s":13,"f":381.1,"p":5.4},{"s":13,"f":392.2,"p":3.3},{"s":13,"f":403.3,"p":6.3},{"s":13,"f":414.4,"p":2.8},{"s":13,"f":425.5,"p":5},{"s":13,"f":436.6,"p":3.1},{"s":13,"f":447.7,"p":4.6},{"s":13,"f":458.8,"p":2.7},{"s":13,"f":469.9,"p":5.5},{"s":13,"f":481,"p":3},{"s":13,"f":492.1,"p":6.5},{"s":13,"f":503.2,"p":4},{"s":13,"f":510.6,"p":12},{"s":13,"f":514.3,"p":5.5},{"s":13,"f":518,"p":14},{"s":13,"f":521.7,"p":4.5},{"s":13,"f":525.4,"p":9},{"s":13,"f":536.5,"p":3},{"s":13,"f":547.6,"p":5},{"s":13,"f":558.7,"p":2.6},
{"s":13,"f":585,"p":3.5},{"s":13,"f":610,"p":2.4},{"s":13,"f":635,"p":3.0},{"s":13,"f":660,"p":2.2},{"s":13,"f":685,"p":2.6},{"s":13,"f":710,"p":3.1},{"s":13,"f":735,"p":3.2},{"s":13,"f":760,"p":2.0},{"s":13,"f":785,"p":2.4},{"s":13,"f":810,"p":2.9},{"s":13,"f":835,"p":2.8},{"s":13,"f":860,"p":2.1},{"s":13,"f":885,"p":2.2},{"s":13,"f":910,"p":3.0},{"s":13,"f":935,"p":3.0},{"s":13,"f":960,"p":2.3},{"s":13,"f":985,"p":2.5},{"s":13,"f":1010,"p":1.9},{"s":13,"f":1035,"p":2.0},{"s":13,"f":1060,"p":2.7},{"s":13,"f":1085,"p":2.7},{"s":13,"f":1110,"p":2.2},{"s":13,"f":1135,"p":5.5},{"s":13,"f":1160,"p":2.4},{"s":13,"f":1185,"p":3.0},{"s":13,"f":1210,"p":2.1},{"s":13,"f":1235,"p":2.4},{"s":13,"f":1260,"p":2.6},{"s":13,"f":1285,"p":2.9},{"s":13,"f":1310,"p":2.5},{"s":13,"f":1335,"p":3.3},{"s":13,"f":1360,"p":2.7},{"s":13,"f":1385,"p":3.9},{"s":13,"f":1410,"p":3.0},{"s":13,"f":1435,"p":3.6},{"s":13,"f":1460,"p":3.4},{"s":13,"f":1485,"p":4.5},{"s":13,"f":1510,"p":4.0},{"s":13,"f":1535,"p":6},
{"s":13,"f":597,"p":1.0},{"s":13,"f":622,"p":0.95},{"s":13,"f":647,"p":1.1},{"s":13,"f":672,"p":0.9},{"s":13,"f":697,"p":1.1},{"s":13,"f":722,"p":0.85},{"s":13,"f":747,"p":0.9},{"s":13,"f":772,"p":1.05},{"s":13,"f":797,"p":1.0},{"s":13,"f":822,"p":0.8},{"s":13,"f":847,"p":0.85},{"s":13,"f":872,"p":1.0},{"s":13,"f":897,"p":1.0},{"s":13,"f":922,"p":0.8},{"s":13,"f":947,"p":0.95},{"s":13,"f":972,"p":0.9},{"s":13,"f":997,"p":0.85},{"s":13,"f":1022,"p":1.1},{"s":13,"f":1047,"p":1.0},{"s":13,"f":1072,"p":0.8},{"s":13,"f":1097,"p":0.9},{"s":13,"f":1122,"p":1.0},{"s":13,"f":1147,"p":1.1},{"s":13,"f":1172,"p":0.85},{"s":13,"f":1197,"p":0.9},{"s":13,"f":1222,"p":1.0},{"s":13,"f":1247,"p":1.0},{"s":13,"f":1272,"p":0.9},{"s":13,"f":1297,"p":1.1},{"s":13,"f":1322,"p":1.0},{"s":13,"f":1347,"p":1.2},{"s":13,"f":1372,"p":1.1},{"s":13,"f":1397,"p":1.3},{"s":13,"f":1422,"p":1.4},{"s":13,"f":1447,"p":1.5},{"s":13,"f":1472,"p":1.6},{"s":13,"f":1497,"p":1.8},{"s":13,"f":1522,"p":2.2},
{"s":13,"f":1560,"p":3.5},{"s":13,"f":1590,"p":9},{"s":13,"f":1620,"p":5},{"s":13,"f":1650,"p":12},{"s":13,"f":1680,"p":7},{"s":13,"f":1710,"p":10},{"s":13,"f":1740,"p":25},{"s":13,"f":1770,"p":14},{"s":13,"f":1790,"p":40},{"s":13,"f":1820,"p":22},{"s":13,"f":1850,"p":80},{"s":13,"f":1880,"p":35},{"s":13,"f":1910,"p":150},{"s":13,"f":1940,"p":60},{"s":13,"f":1970,"p":200},{"s":13,"f":2000,"p":90},{"s":13,"f":2030,"p":550},{"s":13,"f":2050,"p":230},{"s":13,"f":2073,"p":62000},{"s":13,"f":2090,"p":600},{"s":13,"f":2105,"p":5900},{"s":13,"f":2120,"p":300},{"s":13,"f":2140,"p":900},{"s":13,"f":2160,"p":120},{"s":13,"f":2180,"p":250},{"s":13,"f":2200,"p":90},{"s":13,"f":2230,"p":160},{"s":13,"f":2260,"p":60},{"s":13,"f":2290,"p":110},{"s":13,"f":2320,"p":40},{"s":13,"f":2350,"p":70},{"s":13,"f":2380,"p":25},{"s":13,"f":2420,"p":45},{"s":13,"f":2460,"p":16},{"s":13,"f":2500,"p":30},{"s":13,"f":2540,"p":10},{"s":13,"f":2580,"p":18},{"s":13,"f":2620,"p":6},{"s":13,"f":2660,"p":10},{"s":13,"f":2700,"p":3.5},{"s":13,"f":2740,"p":6},{"s":13,"f":2780,"p":1.5},
{"s":13,"f":2850,"p":2.7},{"s":13,"f":2875,"p":0.45},{"s":13,"f":2900,"p":2.2},{"s":13,"f":2925,"p":0.7},{"s":13,"f":2950,"p":3.2},{"s":13,"f":2975,"p":0.4},{"s":13,"f":3000,"p":1.9},{"s":13,"f":3025,"p":0.9},{"s":13,"f":3050,"p":2.6},{"s":13,"f":3075,"p":0.5},{"s":13,"f":3100,"p":3.0},{"s":13,"f":3125,"p":0.35},{"s":13,"f":3150,"p":2.0},{"s":13,"f":3175,"p":0.8},{"s":13,"f":3200,"p":3.5},{"s":13,"f":3225,"p":0.55},{"s":13,"f":3250,"p":2.3},{"s":13,"f":3275,"p":0.4},{"s":13,"f":3300,"p":2.8},{"s":13,"f":3325,"p":0.65},{"s":13,"f":3350,"p":1.8},{"s":13,"f":3375,"p":0.9},{"s":13,"f":3400,"p":3.2},{"s":13,"f":3425,"p":0.38},{"s":13,"f":3450,"p":2.4},{"s":13,"f":3475,"p":0.6},{"s":13,"f":3500,"p":2.1},{"s":13,"f":3525,"p":0.45},{"s":13,"f":3550,"p":3.4},{"s":13,"f":3575,"p":0.75},{"s":13,"f":3600,"p":2.6},{"s":13,"f":3625,"p":0.35},{"s":13,"f":3650,"p":1.9},{"s":13,"f":3675,"p":0.5},{"s":13,"f":3700,"p":2.9},{"s":13,"f":3725,"p":0.85},{"s":13,"f":3750,"p":2.2},{"s":13,"f":3775,"p":0.43},{"s":13,"f":3800,"p":3.1},{"s":13,"f":3825,"p":0.6},{"s":13,"f":3850,"p":2.5},{"s":13,"f":3875,"p":0.33},{"s":13,"f":3900,"p":1.9},{"s":13,"f":3925,"p":0.7},{"s":13,"f":3950,"p":3.3},{"s":13,"f":3975,"p":0.5},{"s":13,"f":4000,"p":2.7},{"s":13,"f":4050,"p":0.4},{"s":13,"f":4100,"p":3.0},{"s":13,"f":4137,"p":57},{"s":13,"f":4170,"p":0.6},
{"s":13,"f":4220,"p":2.7},{"s":13,"f":4260,"p":0.45},{"s":13,"f":4300,"p":2.2},{"s":13,"f":4340,"p":0.7},{"s":13,"f":4380,"p":3.2},{"s":13,"f":4420,"p":0.4},{"s":13,"f":4460,"p":1.9},{"s":13,"f":4500,"p":0.9},{"s":13,"f":4540,"p":2.6},{"s":13,"f":4580,"p":0.5},{"s":13,"f":4620,"p":3.0},{"s":13,"f":4660,"p":0.35},{"s":13,"f":4700,"p":2.0},{"s":13,"f":4740,"p":0.8},{"s":13,"f":4780,"p":3.5},{"s":13,"f":4820,"p":0.55},{"s":13,"f":4860,"p":2.3},{"s":13,"f":4900,"p":0.4},{"s":13,"f":4940,"p":2.8},{"s":13,"f":4980,"p":0.65},{"s":13,"f":5020,"p":1.8},{"s":13,"f":5060,"p":0.9},{"s":13,"f":5100,"p":3.2},{"s":13,"f":5140,"p":0.38},{"s":13,"f":5180,"p":2.4},{"s":13,"f":5220,"p":0.6},{"s":13,"f":5260,"p":2.1},{"s":13,"f":5300,"p":0.45},{"s":13,"f":5340,"p":3.4},{"s":13,"f":5380,"p":0.75},{"s":13,"f":5420,"p":2.6},{"s":13,"f":5460,"p":0.35},{"s":13,"f":5500,"p":1.9},{"s":13,"f":5540,"p":0.5},{"s":13,"f":5580,"p":2.9},{"s":13,"f":5620,"p":0.85},{"s":13,"f":5660,"p":2.2},{"s":13,"f":5700,"p":0.43},{"s":13,"f":5740,"p":3.1},{"s":13,"f":5780,"p":0.6},{"s":13,"f":5820,"p":2.5},{"s":13,"f":5860,"p":0.33},{"s":13,"f":5900,"p":1.9},{"s":13,"f":5940,"p":0.7},{"s":13,"f":5980,"p":3.3},{"s":13,"f":6020,"p":0.5},{"s":13,"f":6060,"p":2.7},{"s":13,"f":6100,"p":0.5},{"s":13,"f":6150,"p":3.5},{"s":13,"f":6200,"p":1.2},{"s":13,"f":6270,"p":92},{"s":13,"f":6330,"p":0.6},
{"s":13,"f":6400,"p":3.0},{"s":13,"f":6450,"p":0.35},{"s":13,"f":6500,"p":2.0},{"s":13,"f":6550,"p":0.8},{"s":13,"f":6600,"p":3.5},{"s":13,"f":6650,"p":0.55},{"s":13,"f":6700,"p":2.3},{"s":13,"f":6750,"p":0.4},{"s":13,"f":6800,"p":2.8},{"s":13,"f":6850,"p":0.65},{"s":13,"f":6900,"p":1.8},{"s":13,"f":6950,"p":0.9},{"s":13,"f":7000,"p":3.2},{"s":13,"f":7050,"p":0.38},{"s":13,"f":7100,"p":2.4},{"s":13,"f":7150,"p":0.6},{"s":13,"f":7200,"p":2.1},{"s":13,"f":7250,"p":0.45},{"s":13,"f":7300,"p":3.4},{"s":13,"f":7350,"p":0.75},{"s":13,"f":7400,"p":2.6},{"s":13,"f":7450,"p":0.35},{"s":13,"f":7500,"p":1.9},{"s":13,"f":7550,"p":0.5},{"s":13,"f":7600,"p":2.9},{"s":13,"f":7650,"p":0.85},{"s":13,"f":7700,"p":2.2},{"s":13,"f":7750,"p":0.43},{"s":13,"f":7800,"p":3.1},{"s":13,"f":7850,"p":0.6},{"s":13,"f":7900,"p":2.5},{"s":13,"f":7950,"p":0.33},{"s":13,"f":8000,"p":1.9},{"s":13,"f":8050,"p":0.7},{"s":13,"f":8100,"p":3.3},{"s":13,"f":8150,"p":0.5},{"s":13,"f":8200,"p":2.7},{"s":13,"f":8250,"p":0.4},{"s":13,"f":8300,"p":2.7},{"s":13,"f":8350,"p":0.45},{"s":13,"f":8400,"p":2.2},{"s":13,"f":8450,"p":0.7},{"s":13,"f":8500,"p":3.2},{"s":13,"f":8550,"p":0.4},{"s":13,"f":8600,"p":1.9},{"s":13,"f":8650,"p":0.9},{"s":13,"f":8700,"p":2.6},{"s":13,"f":8750,"p":0.5},{"s":13,"f":8800,"p":3.0},{"s":13,"f":8850,"p":0.35},{"s":13,"f":8900,"p":2.0},{"s":13,"f":8950,"p":0.8},{"s":13,"f":9000,"p":3.5},{"s":13,"f":9050,"p":0.55},{"s":13,"f":9100,"p":2.3},{"s":13,"f":9150,"p":0.4},{"s":13,"f":9200,"p":2.8},{"s":13,"f":9250,"p":0.65},{"s":13,"f":9300,"p":1.8},{"s":13,"f":9350,"p":0.9},{"s":13,"f":9400,"p":3.2},{"s":13,"f":9450,"p":0.38},{"s":13,"f":9500,"p":2.4},{"s":13,"f":9550,"p":0.6},{"s":13,"f":9600,"p":2.1},{"s":13,"f":9650,"p":0.45},{"s":13,"f":9700,"p":3.4},{"s":13,"f":9750,"p":0.75},{"s":13,"f":9800,"p":2.6},{"s":13,"f":9850,"p":0.35},{"s":13,"f":9900,"p":1.9},{"s":13,"f":9950,"p":0.5},{"s":13,"f":10000,"p":2.9},
{"s":13,"f":10200,"p":0.4},{"s":13,"f":10400,"p":2.6},{"s":13,"f":10600,"p":0.63},{"s":13,"f":10800,"p":2.1},{"s":13,"f":11000,"p":0.36},{"s":13,"f":11200,"p":3.1},{"s":13,"f":11400,"p":0.81},{"s":13,"f":11600,"p":1.8},{"s":13,"f":11800,"p":0.45},{"s":13,"f":12000,"p":2.5},{"s":13,"f":12200,"p":0.32},{"s":13,"f":12400,"p":2.9},{"s":13,"f":12600,"p":0.72},{"s":13,"f":12800,"p":1.95},{"s":13,"f":13000,"p":0.5},{"s":13,"f":13200,"p":3.4},{"s":13,"f":13400,"p":0.36},{"s":13,"f":13600,"p":2.2},{"s":13,"f":13800,"p":0.58},{"s":13,"f":14000,"p":2.7},{"s":13,"f":14200,"p":0.81},{"s":13,"f":14400,"p":1.8},{"s":13,"f":14600,"p":0.34},{"s":13,"f":14800,"p":3.1},{"s":13,"f":15000,"p":0.54},{"s":13,"f":15200,"p":2.3},{"s":13,"f":15400,"p":0.4},{"s":13,"f":15600,"p":2.0},{"s":13,"f":15800,"p":0.68},{"s":13,"f":16000,"p":3.25},{"s":13,"f":16200,"p":0.32},{"s":13,"f":16400,"p":2.5},{"s":13,"f":16600,"p":0.45},{"s":13,"f":16800,"p":1.8},{"s":13,"f":17000,"p":0.77},{"s":13,"f":17200,"p":2.8},{"s":13,"f":17400,"p":0.38},{"s":13,"f":17600,"p":2.1},{"s":13,"f":17800,"p":0.54},{"s":13,"f":18000,"p":3.0},{"s":13,"f":18200,"p":0.29},{"s":13,"f":18400,"p":2.4},{"s":13,"f":18600,"p":0.63},{"s":13,"f":18800,"p":1.9},{"s":13,"f":19000,"p":0.45},{"s":13,"f":19200,"p":3.2},{"s":13,"f":19400,"p":0.36},{"s":13,"f":19600,"p":2.6},{"s":13,"f":19800,"p":0.4},{"s":13,"f":20000,"p":2.6},
{"s":13,"f":20400,"p":0.36},{"s":13,"f":20800,"p":2.5},{"s":13,"f":21200,"p":0.56},{"s":13,"f":21600,"p":2.0},{"s":13,"f":22000,"p":0.32},{"s":13,"f":22400,"p":3.0},{"s":13,"f":22800,"p":0.72},{"s":13,"f":23200,"p":1.75},{"s":13,"f":23600,"p":0.4},{"s":13,"f":24000,"p":2.4},{"s":13,"f":24400,"p":0.28},{"s":13,"f":24800,"p":2.75},{"s":13,"f":25200,"p":0.64},{"s":13,"f":25600,"p":1.9},{"s":13,"f":26000,"p":0.44},{"s":13,"f":26400,"p":3.25},{"s":13,"f":26800,"p":0.32},{"s":13,"f":27200,"p":2.1},{"s":13,"f":27600,"p":0.52},{"s":13,"f":28000,"p":2.6},{"s":13,"f":28400,"p":0.72},{"s":13,"f":28800,"p":1.7},{"s":13,"f":29200,"p":0.3},{"s":13,"f":29600,"p":2.95},{"s":13,"f":30000,"p":0.48},{"s":13,"f":30400,"p":2.25},{"s":13,"f":30800,"p":0.36},{"s":13,"f":31200,"p":1.95},{"s":13,"f":31600,"p":0.6},{"s":13,"f":32000,"p":3.1},{"s":13,"f":32400,"p":0.28},{"s":13,"f":32800,"p":2.45},{"s":13,"f":33200,"p":0.4},{"s":13,"f":33600,"p":1.75},{"s":13,"f":34000,"p":0.68},{"s":13,"f":34400,"p":2.7},{"s":13,"f":34800,"p":0.34},{"s":13,"f":35200,"p":2.05},{"s":13,"f":35600,"p":0.48},{"s":13,"f":36000,"p":2.9},{"s":13,"f":36400,"p":0.26},{"s":13,"f":36800,"p":2.3},
{"s":13,"f":37400,"p":25},{"s":13,"f":38000,"p":0.6},{"s":13,"f":38600,"p":3},{"s":13,"f":39200,"p":0.4},{"s":13,"f":39800,"p":6},{"s":13,"f":40400,"p":1.0},{"s":13,"f":41000,"p":12},{"s":13,"f":41500,"p":150},{"s":13,"f":41900,"p":2600},{"s":13,"f":42300,"p":30},{"s":13,"f":42700,"p":4},{"s":13,"f":43200,"p":14},{"s":13,"f":43600,"p":1.5},{"s":13,"f":44100,"p":8},{"s":13,"f":44600,"p":0.5},{"s":13,"f":45200,"p":3.5},{"s":13,"f":45800,"p":0.4},
{"s":13,"f":46000,"p":2.1},{"s":13,"f":47000,"p":0.3},{"s":13,"f":48000,"p":1.7},{"s":13,"f":49000,"p":0.46},{"s":13,"f":50000,"p":2.5},{"s":13,"f":51000,"p":0.26},{"s":13,"f":52000,"p":1.5},{"s":13,"f":53000,"p":0.6},{"s":13,"f":54000,"p":2.0},{"s":13,"f":55000,"p":0.33},{"s":13,"f":56000,"p":2.3},{"s":13,"f":57000,"p":0.23},{"s":13,"f":58000,"p":1.6},{"s":13,"f":59000,"p":0.53},{"s":13,"f":60000,"p":2.7},{"s":13,"f":61000,"p":0.36},{"s":13,"f":62000,"p":1.8},{"s":13,"f":63000,"p":0.26},{"s":13,"f":64000,"p":2.2},{"s":13,"f":65000,"p":0.43},{"s":13,"f":66000,"p":1.45},{"s":13,"f":67000,"p":0.6},{"s":13,"f":68000,"p":2.5},{"s":13,"f":69000,"p":0.25},{"s":13,"f":70000,"p":1.9},{"s":13,"f":71000,"p":0.4},{"s":13,"f":72000,"p":1.65},{"s":13,"f":73000,"p":0.3},{"s":13,"f":74000,"p":2.6},{"s":13,"f":75000,"p":0.5},{"s":13,"f":76000,"p":2.05},{"s":13,"f":77000,"p":0.23},{"s":13,"f":78000,"p":1.5},{"s":13,"f":79000,"p":0.33},{"s":13,"f":80000,"p":2.25},
{"s":13,"f":82000,"p":0.23},{"s":13,"f":84000,"p":1.65},{"s":13,"f":86000,"p":0.36},{"s":13,"f":88000,"p":1.3},{"s":13,"f":90000,"p":0.21},{"s":13,"f":92000,"p":2.0},{"s":13,"f":94000,"p":0.47},{"s":13,"f":96000,"p":1.15},{"s":13,"f":98000,"p":0.26},{"s":13,"f":100000,"p":1.55},{"s":13,"f":102000,"p":0.18},{"s":13,"f":104000,"p":1.8},{"s":13,"f":106000,"p":0.42},{"s":13,"f":108000,"p":1.25},{"s":13,"f":110000,"p":0.29},{"s":13,"f":112000,"p":2.15},{"s":13,"f":114000,"p":0.21},{"s":13,"f":116000,"p":1.4},{"s":13,"f":118000,"p":0.34},{"s":13,"f":120000,"p":1.75},{"s":13,"f":122000,"p":0.47},{"s":13,"f":124000,"p":1.1},{"s":13,"f":126000,"p":0.2},{"s":13,"f":128000,"p":1.95},{"s":13,"f":130000,"p":0.31},{"s":13,"f":132000,"p":1.5},{"s":13,"f":134000,"p":0.23},{"s":13,"f":136000,"p":1.3},{"s":13,"f":138000,"p":0.39},{"s":13,"f":140000,"p":2.05},{"s":13,"f":142000,"p":0.18},{"s":13,"f":144000,"p":1.6},{"s":13,"f":146000,"p":0.26},{"s":13,"f":148000,"p":1.15},{"s":13,"f":150000,"p":0.44},{"s":13,"f":152000,"p":1.8},{"s":13,"f":154000,"p":0.22},{"s":13,"f":156000,"p":1.35},{"s":13,"f":158000,"p":0.31},{"s":13,"f":160000,"p":1.9},
{"s":13,"f":164000,"p":0.12},{"s":13,"f":168000,"p":1.15},{"s":13,"f":172000,"p":0.18},{"s":13,"f":176000,"p":0.92},{"s":13,"f":180000,"p":0.1},{"s":13,"f":184000,"p":1.4},{"s":13,"f":188000,"p":0.23},{"s":13,"f":192000,"p":0.8},{"s":13,"f":196000,"p":0.13},{"s":13,"f":200000,"p":1.1},{"s":13,"f":204000,"p":0.09},{"s":13,"f":208000,"p":1.25},{"s":13,"f":212000,"p":0.21},{"s":13,"f":216000,"p":0.86},{"s":13,"f":220000,"p":0.14},{"s":13,"f":224000,"p":1.5},{"s":13,"f":228000,"p":0.1},{"s":13,"f":232000,"p":0.98},{"s":13,"f":236000,"p":0.17},{"s":13,"f":240000,"p":1.2},{"s":13,"f":244000,"p":0.23},{"s":13,"f":248000,"p":0.78},{"s":13,"f":252000,"p":0.1},{"s":13,"f":256000,"p":1.35},{"s":13,"f":260000,"p":0.16},{"s":13,"f":264000,"p":1.04},{"s":13,"f":268000,"p":0.12},{"s":13,"f":272000,"p":0.9},{"s":13,"f":276000,"p":0.2},{"s":13,"f":280000,"p":1.45},{"s":13,"f":284000,"p":0.09},{"s":13,"f":288000,"p":1.13},{"s":13,"f":292000,"p":0.13},{"s":13,"f":296000,"p":0.8},{"s":13,"f":300000,"p":0.22},{"s":13,"f":304000,"p":1.25},{"s":13,"f":308000,"p":0.11},{"s":13,"f":312000,"p":0.94},{"s":13,"f":316000,"p":0.16},{"s":13,"f":320000,"p":1.3},
{"s":13,"f":325000,"p":0.09},{"s":13,"f":330000,"p":0.8},{"s":13,"f":335000,"p":0.13},{"s":13,"f":340000,"p":0.62},{"s":13,"f":345000,"p":0.075},{"s":13,"f":350000,"p":0.92},{"s":13,"f":355000,"p":0.16},{"s":13,"f":360000,"p":0.56},{"s":13,"f":365000,"p":0.09},{"s":13,"f":370000,"p":0.74},{"s":13,"f":375000,"p":0.065},{"s":13,"f":380000,"p":0.84},{"s":13,"f":385000,"p":0.14},{"s":13,"f":390000,"p":0.58},{"s":13,"f":395000,"p":0.095},{"s":13,"f":400000,"p":0.95},{"s":13,"f":405000,"p":0.07},{"s":13,"f":410000,"p":0.64},{"s":13,"f":415000,"p":0.11},{"s":13,"f":420000,"p":0.8},{"s":13,"f":425000,"p":0.15},{"s":13,"f":430000,"p":0.52},{"s":13,"f":435000,"p":0.065},{"s":13,"f":440000,"p":0.88},{"s":13,"f":445000,"p":0.1},{"s":13,"f":450000,"p":0.66},{"s":13,"f":455000,"p":0.075},{"s":13,"f":460000,"p":0.58},{"s":13,"f":465000,"p":0.12},{"s":13,"f":470000,"p":0.92},{"s":13,"f":475000,"p":0.06},{"s":13,"f":480000,"p":0.7},{"s":13,"f":485000,"p":0.08},{"s":13,"f":490000,"p":0.52},{"s":13,"f":495000,"p":0.13},{"s":13,"f":500000,"p":0.78},{"s":13,"f":505000,"p":0.065},{"s":13,"f":510000,"p":0.6},{"s":13,"f":512000,"p":0.055}
]},
"mark": {"type": "line", "strokeWidth": 1.5},
"encoding": {
"x": {"field": "f", "type": "quantitative", "scale": {"type": "log", "domain": [1, 1000000], "nice": false},
 "axis": {"orient": "bottom", "values": [1,2,3,4,5,6,7,8,9,10,20,30,40,50,60,70,80,90,100,200,300,400,500,600,700,800,900,1000,2000,3000,4000,5000,6000,7000,8000,9000,10000,20000,30000,40000,50000,60000,70000,80000,90000,100000,200000,300000,400000,500000,600000,700000,800000,900000,1000000],
  "labels": false, "tickSize": {"condition": {"test": "abs(log(datum.value)/LN10 - round(log(datum.value)/LN10)) < 0.001", "value": -8.5}, "value": -5},
  "title": "Frequency, Hz", "titleFontSize": 29.5, "titleX": 433, "titleY": 86, "titleBaseline": "alphabetic", "titleAlign": "center"}},
"y": {"field": "p", "type": "quantitative", "scale": {"type": "log", "domain": [1e-8, 1000000], "nice": false},
 "axis": {"orient": "left", "values": [1e-8,2e-8,3e-8,4e-8,5e-8,6e-8,7e-8,8e-8,9e-8,1e-7,2e-7,3e-7,4e-7,5e-7,6e-7,7e-7,8e-7,9e-7,1e-6,2e-6,3e-6,4e-6,5e-6,6e-6,7e-6,8e-6,9e-6,1e-5,2e-5,3e-5,4e-5,5e-5,6e-5,7e-5,8e-5,9e-5,1e-4,2e-4,3e-4,4e-4,5e-4,6e-4,7e-4,8e-4,9e-4,0.001,0.002,0.003,0.004,0.005,0.006,0.007,0.008,0.009,0.01,0.02,0.03,0.04,0.05,0.06,0.07,0.08,0.09,0.1,0.2,0.3,0.4,0.5,0.6,0.7,0.8,0.9,1,2,3,4,5,6,7,8,9,10,20,30,40,50,60,70,80,90,100,200,300,400,500,600,700,800,900,1000,2000,3000,4000,5000,6000,7000,8000,9000,10000,20000,30000,40000,50000,60000,70000,80000,90000,100000,200000,300000,400000,500000,600000,700000,800000,900000,1000000],
  "labels": false, "tickSize": {"condition": {"test": "abs(log(datum.value)/LN10 - round(log(datum.value)/LN10)) < 0.001", "value": -8.5}, "value": -5},
  "title": "Normalized PSD", "titleFontSize": 29.5, "titleX": -76, "titleY": 341.5, "titleAngle": -90, "titleBaseline": "alphabetic", "titleAlign": "center"}},
"color": {"field": "s", "type": "nominal",
 "scale": {"domain": [1,2,3,4,5,6,7,8,9,10,11,12,13], "range": ["#0072BD","#D95319","#EDB120","#7E2F8E","#77AC30","#4DBEEE","#A2142F","#0072BD","#D95319","#EDB120","#7E2F8E","#77AC30","#000000"]},
 "legend": {"title": null, "orient": "none", "legendX": 33, "legendY": 237, "padding": 9, "strokeColor": "#262626", "fillColor": "white", "symbolType": "M-2.8,0H13.2", "symbolSize": 100, "symbolStrokeWidth": 1.3, "labelFont": "Liberation Sans", "labelFontSize": 24, "labelColor": "black", "labelOffset": 61, "rowPadding": 9, "labelLimit": 0, "labelExpr": "datum.value == 13 ? 'Photodiode' : 'Point ' + (datum.value < 10 ? '0' : '') + datum.value"}},
"strokeDash": {"field": "s", "type": "nominal",
 "scale": {"domain": [1,2,3,4,5,6,7,8,9,10,11,12,13], "range": [[1,0],[1,0],[1,0],[1,0],[1,0],[1,0],[1,0],[1,0],[1,0],[1,0],[1,0],[1,0],[19,12]]},
 "legend": {"title": null, "orient": "none", "legendX": 33, "legendY": 237, "padding": 9, "strokeColor": "#262626", "fillColor": "white", "symbolType": "M-2.8,0H13.2", "symbolSize": 100, "symbolStrokeWidth": 1.3, "labelFont": "Liberation Sans", "labelFontSize": 24, "labelColor": "black", "labelOffset": 61, "rowPadding": 9, "labelLimit": 0, "labelExpr": "datum.value == 13 ? 'Photodiode' : 'Point ' + (datum.value < 10 ? '0' : '') + datum.value"}}
}
},
{
"data": {"values": [{}]},
"mark": {"type": "point", "opacity": 0},
"encoding": {
"x": {"datum": 1, "type": "quantitative", "scale": {"type": "log", "domain": [1, 1000000], "nice": false},
 "axis": {"orient": "bottom", "values": [1,10,100,1000,10000,100000,1000000], "domain": false, "ticks": false, "labelExpr": "'10'", "labelFontSize": 27, "labelBaseline": "alphabetic", "labelPadding": 46, "labelOffset": -8, "labelFlush": false, "labelOverlap": false, "labelBound": false, "title": null}},
"y": {"datum": 1, "type": "quantitative", "scale": {"type": "log", "domain": [1e-8, 1000000], "nice": false},
 "axis": {"orient": "left", "values": [1e-8,1e-6,1e-4,0.01,1,100,10000,1000000], "domain": false, "ticks": false, "labelExpr": "datum.value < 0.5 ? '10\u2009' : '10'", "labelFontSize": 27, "labelAlign": "right", "labelBaseline": "alphabetic", "labelPadding": 25, "labelOffset": 16, "labelFlush": false, "labelOverlap": false, "labelBound": false, "title": null}}
}
},
{
"data": {"values": [{}]},
"mark": {"type": "point", "opacity": 0},
"encoding": {
"x": {"datum": 1, "type": "quantitative", "scale": {"type": "log", "domain": [1, 1000000], "nice": false},
 "axis": {"orient": "bottom", "values": [1,10,100,1000,10000,100000,1000000], "domain": false, "ticks": false, "labelExpr": "'' + round(log(datum.value)/LN10)", "labelFontSize": 16, "labelBaseline": "alphabetic", "labelPadding": 33, "labelOffset": 13, "labelFlush": false, "labelOverlap": false, "labelBound": false, "title": null}},
"y": {"datum": 1, "type": "quantitative", "scale": {"type": "log", "domain": [1e-8, 1000000], "nice": false},
 "axis": {"orient": "left", "values": [1e-8,1e-6,1e-4,0.01,1,100,10000,1000000], "domain": false, "ticks": false, "labelExpr": "'' + round(log(datum.value)/LN10)", "labelFontSize": 16, "labelAlign": "right", "labelBaseline": "alphabetic", "labelPadding": 12, "labelOffset": 4, "labelFlush": false, "labelOverlap": false, "labelBound": false, "title": null}}
}
},
{
"data": {"values": [{}]},
"mark": {"type": "point", "opacity": 0},
"encoding": {
"x": {"datum": 1, "type": "quantitative", "scale": {"type": "log", "domain": [1, 1000000], "nice": false},
 "axis": {"orient": "top", "values": [1,2,3,4,5,6,7,8,9,10,20,30,40,50,60,70,80,90,100,200,300,400,500,600,700,800,900,1000,2000,3000,4000,5000,6000,7000,8000,9000,10000,20000,30000,40000,50000,60000,70000,80000,90000,100000,200000,300000,400000,500000,600000,700000,800000,900000,1000000],
  "labels": false, "tickSize": {"condition": {"test": "abs(log(datum.value)/LN10 - round(log(datum.value)/LN10)) < 0.001", "value": -8.5}, "value": -5}, "title": null}},
"y": {"datum": 1, "type": "quantitative", "scale": {"type": "log", "domain": [1e-8, 1000000], "nice": false},
 "axis": {"orient": "right", "values": [1e-8,2e-8,3e-8,4e-8,5e-8,6e-8,7e-8,8e-8,9e-8,1e-7,2e-7,3e-7,4e-7,5e-7,6e-7,7e-7,8e-7,9e-7,1e-6,2e-6,3e-6,4e-6,5e-6,6e-6,7e-6,8e-6,9e-6,1e-5,2e-5,3e-5,4e-5,5e-5,6e-5,7e-5,8e-5,9e-5,1e-4,2e-4,3e-4,4e-4,5e-4,6e-4,7e-4,8e-4,9e-4,0.001,0.002,0.003,0.004,0.005,0.006,0.007,0.008,0.009,0.01,0.02,0.03,0.04,0.05,0.06,0.07,0.08,0.09,0.1,0.2,0.3,0.4,0.5,0.6,0.7,0.8,0.9,1,2,3,4,5,6,7,8,9,10,20,30,40,50,60,70,80,90,100,200,300,400,500,600,700,800,900,1000,2000,3000,4000,5000,6000,7000,8000,9000,10000,20000,30000,40000,50000,60000,70000,80000,90000,100000,200000,300000,400000,500000,600000,700000,800000,900000,1000000],
  "labels": false, "tickSize": {"condition": {"test": "abs(log(datum.value)/LN10 - round(log(datum.value)/LN10)) < 0.001", "value": -8.5}, "value": -5}, "title": null}}
}
}
]
}
